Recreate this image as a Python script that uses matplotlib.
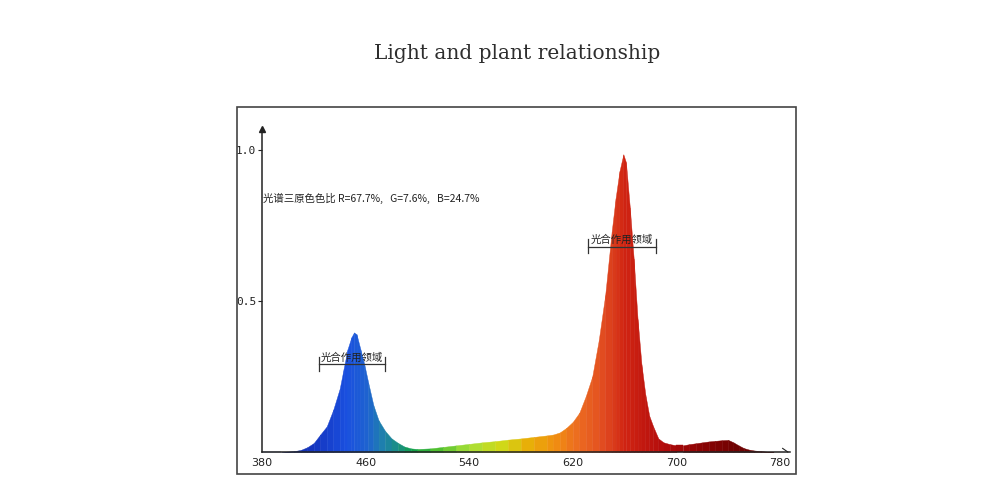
import matplotlib.pyplot as plt
from matplotlib.colors import LinearSegmentedColormap
from matplotlib.patches import Rectangle

# 光谱数据
wavelength = [380, 395, 405, 410, 415, 420, 425, 430, 435, 440, 443, 446, 449, 451, 453,
              456, 459, 462, 466, 470, 475, 480, 485, 490, 495, 500, 510, 520, 530, 540,
              550, 560, 570, 580, 590, 600, 605, 610, 615, 620, 625, 630, 635, 640, 645,
              650, 653, 656, 659, 661, 664, 667, 670, 673, 676, 679, 682, 686, 690, 695,
              700, 705, 710, 715, 720, 725, 730, 735, 740, 744, 748, 752, 756, 760, 765,
              770, 775]
intensity = [0, 0, 0.003, 0.007, 0.016, 0.030, 0.058, 0.085, 0.140, 0.210, 0.275, 0.340, 0.380, 0.396, 0.390,
             0.340, 0.290, 0.230, 0.155, 0.105, 0.070, 0.045, 0.030, 0.018, 0.012, 0.010, 0.012, 0.017, 0.022, 0.027,
             0.032, 0.036, 0.041, 0.045, 0.050, 0.055, 0.058, 0.065, 0.080, 0.100, 0.130, 0.185, 0.250, 0.370, 0.520,
             0.730, 0.840, 0.930, 0.986, 0.960, 0.810, 0.640, 0.440, 0.290, 0.190, 0.120, 0.085, 0.045, 0.032, 0.026,
             0.022, 0.022, 0.026, 0.029, 0.032, 0.035, 0.037, 0.039, 0.040, 0.032, 0.022, 0.013, 0.008, 0.005, 0.003,
             0.001, 0]

x_ticks = [380, 460, 540, 620, 700, 780]
y_ticks = [0.5, 1.0]
title = 'Light and plant relationship'
ratio_text = '光谱三原色色比 R=67.7%,   G=7.6%,   B=24.7%'
region_label = '光合作用领域'
regions = [(424, 475, 0.29), (632, 684, 0.68)]  # (左, 右, 高度)

# 波长 -> 颜色
anchors = [(380, '#102c90'), (420, '#1535c0'), (445, '#1a50e0'), (460, '#1e62d0'),
           (472, '#1e7eb0'), (485, '#1a9080'), (497, '#10a048'), (515, '#50c030'),
           (540, '#a8e038'), (565, '#d0d818'), (585, '#e8b008'), (605, '#f09010'),
           (625, '#ec6a20'), (645, '#e04a20'), (660, '#d02412'), (690, '#b40c0c'),
           (715, '#900404'), (745, '#700202'), (780, '#600000')]
cmap = LinearSegmentedColormap.from_list(
    'spec', [((w - 380) / 400, c) for w, c in anchors])

plt.rcParams['font.family'] = ['Noto Sans CJK SC', 'DejaVu Sans']
fig = plt.figure(figsize=(10, 5), dpi=100)
ax = fig.add_axes([0.262, 0.096, 0.5284, 0.646])

for i in range(len(wavelength) - 1):
    mid = (wavelength[i] + wavelength[i + 1]) / 2
    ax.fill_between(wavelength[i:i + 2], intensity[i:i + 2], 0,
                    color=cmap((mid - 380) / 400), lw=0.3)

ax.set_xlim(380, 788)
ax.set_ylim(0, 1.07)
for s in ['top', 'right']:
    ax.spines[s].set_visible(False)
for s in ['left', 'bottom']:
    ax.spines[s].set_color('#222222')
    ax.spines[s].set_linewidth(1.1)
ax.set_xticks(x_ticks)
ax.set_yticks(y_ticks)
ax.set_xticklabels([str(t) for t in x_ticks], fontsize=8, family='DejaVu Sans', color='#222222')
ax.set_yticklabels(['%.1f' % t for t in y_ticks], fontsize=8, family='DejaVu Sans Mono', color='#222222')
ax.tick_params(axis='x', length=0, pad=4)
ax.tick_params(axis='y', length=3, width=0.8, pad=1, colors='#222222')

# 坐标轴箭头
ax.plot(380, 1.07, marker='^', color='#222222', markersize=4, clip_on=False)
ax.plot([782, 786], [0.012, 0], color='#222222', lw=0.8, clip_on=False)

ax.text(380.5, 0.84, ratio_text, fontsize=7.5, color='#222222', va='center')

for left, right, h in regions:
    ax.plot([left, right], [h, h], color='#333333', lw=0.9)
    ax.plot([left, left], [h - 0.022, h + 0.025], color='#333333', lw=0.9)
    ax.plot([right, right], [h - 0.022, h + 0.025], color='#333333', lw=0.9)
    ax.text((left + right) / 2, h + 0.006, region_label, fontsize=7.5, color='#222222',
            ha='center', va='bottom')

fig.patches.append(Rectangle((0.237, 0.052), 0.559, 0.734, transform=fig.transFigure,
                             fill=False, edgecolor='#444444', lw=1.2))
fig.text(0.517, 0.893, title, ha='center', va='center', fontsize=14.5,
         family='DejaVu Serif', color='#2e2e2e')

fig.savefig('out.png', dpi=100)
